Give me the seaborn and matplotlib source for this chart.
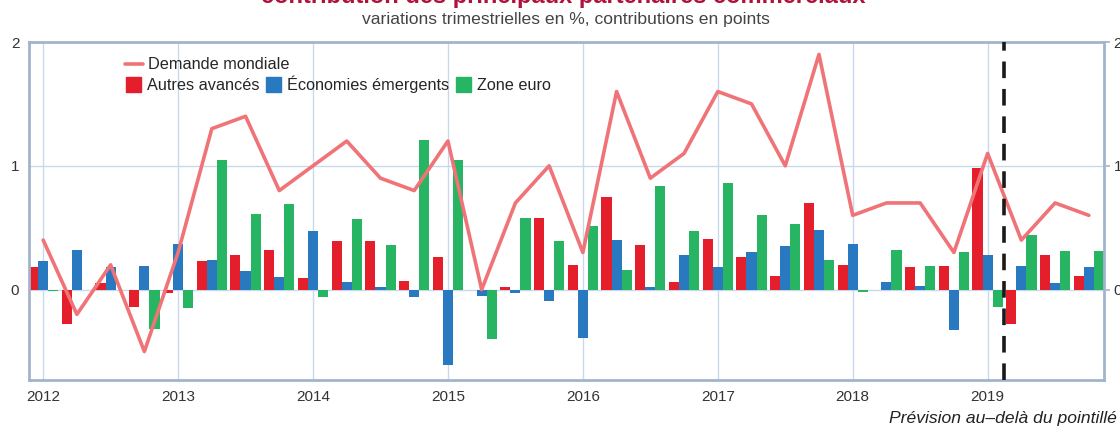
import numpy as np
import pandas as pd
import matplotlib
matplotlib.use('Agg')
import matplotlib.pyplot as plt
import seaborn as sns
from matplotlib.patches import Patch
from matplotlib.lines import Line2D

# quarterly data, 2012T1 -> 2019T4
trimestres = np.arange(32)
annees = ['2012', '2013', '2014', '2015', '2016', '2017', '2018', '2019']

demande = [0.4, -0.2, 0.2, -0.5, 0.3, 1.3, 1.4, 0.8,
           1.0, 1.2, 0.9, 0.8, 1.2, 0.0, 0.7, 1.0,
           0.3, 1.6, 0.9, 1.1, 1.6, 1.5, 1.0, 1.9,
           0.6, 0.7, 0.7, 0.3, 1.1, 0.4, 0.7, 0.6]
autres = [0.18, -0.28, 0.05, -0.14, -0.03, 0.23, 0.28, 0.32,
          0.09, 0.39, 0.39, 0.07, 0.26, 0.0, 0.02, 0.58,
          0.20, 0.75, 0.36, 0.06, 0.41, 0.26, 0.11, 0.70,
          0.20, 0.0, 0.18, 0.19, 0.98, -0.28, 0.28, 0.11]
emergents = [0.23, 0.32, 0.18, 0.19, 0.37, 0.24, 0.15, 0.10,
             0.47, 0.06, 0.02, -0.06, -0.61, -0.05, -0.03, -0.09,
             -0.39, 0.40, 0.02, 0.28, 0.18, 0.30, 0.35, 0.48,
             0.37, 0.06, 0.03, -0.33, 0.28, 0.19, 0.05, 0.18]
zone_euro = [-0.01, 0.0, 0.0, -0.32, -0.15, 1.05, 0.61, 0.69,
             -0.06, 0.57, 0.36, 1.21, 1.05, -0.40, 0.58, 0.39,
             0.51, 0.16, 0.84, 0.47, 0.86, 0.60, 0.53, 0.24,
             -0.02, 0.32, 0.19, 0.30, -0.14, 0.44, 0.31, 0.31]

series = ['Autres avancés', 'Économies émergents', 'Zone euro']
couleurs = {'Autres avancés': '#e41e2b', 'Économies émergents': '#2979c1', 'Zone euro': '#27b463'}

df = pd.DataFrame({
    'trimestre': np.tile(trimestres, 3),
    'valeur': autres + emergents + zone_euro,
    'serie': np.repeat(series, 32),
})

sns.set_style('white')
plt.rcParams['font.family'] = ['Liberation Sans', 'DejaVu Sans']

fig = plt.figure(figsize=(11.2, 4.28), dpi=100)
ax = fig.add_axes([29 / 1120, 1 - 380 / 428, 1075 / 1120, 338 / 428])

sns.barplot(data=df, x='trimestre', y='valeur', hue='serie', hue_order=series,
            palette=couleurs, native_scale=True, width=0.9, errorbar=None,
            saturation=1, legend=False, linewidth=0, ax=ax, zorder=2)
sns.lineplot(x=trimestres, y=demande, color='#f07378', lw=2.6, ax=ax,
             legend=False, zorder=3)
ax.axvline(28.5, color='#1a1a1a', lw=2.6, dashes=(4.6, 3.0), zorder=4)

ax.set_xlim(-0.42, 31.45)
ax.set_ylim(-0.73, 2.0)
ax.set_xticks(np.arange(0, 32, 4))
ax.set_xticklabels(annees)
ax.set_yticks([0, 1, 2])
ax.set_yticklabels(['0', '1', '2'])
ax.set_xlabel('')
ax.set_ylabel('')
ax.grid(True, color='#c8d9ec', lw=1)
ax.set_axisbelow(True)
for s in ax.spines.values():
    s.set_color('#a2b4cc')
    s.set_linewidth(2)
ax.tick_params(axis='both', colors='#a2b4cc', labelcolor='#333333', labelsize=11,
               length=4, width=1.2, direction='out')
ax.tick_params(axis='y', right=True, labelright=True, pad=3)

leg1 = ax.legend(handles=[Line2D([0], [0], color='#f07378', lw=2.6)],
                 labels=['Demande mondiale'], loc='upper left',
                 bbox_to_anchor=(0.089, 0.955), frameon=False, fontsize=11.7,
                 handlelength=1.1, handletextpad=0.35, borderpad=0, borderaxespad=0)
ax.add_artist(leg1)
ax.legend(handles=[Patch(color=couleurs[s]) for s in series], labels=series,
          loc='upper left', bbox_to_anchor=(0.090, 0.900), ncol=3, frameon=False,
          fontsize=11.7, handlelength=0.95, handleheight=1.0, handletextpad=0.35,
          columnspacing=0.4, borderpad=0, borderaxespad=0)

fig.text(0.503, 1 - 3.5 / 428, 'contribution des principaux partenaires commerciaux',
         ha='center', va='baseline', fontsize=17, fontweight='bold', color='#b0103a')
fig.text(0.505, 1 - 24 / 428, 'variations trimestrielles en %, contributions en points',
         ha='center', va='baseline', fontsize=12.6, color='#444444')
fig.text(0.997, 1 - 423 / 428, 'Prévision au–delà du pointillé',
         ha='right', va='baseline', fontsize=12.6, style='italic', color='#222222')

fig.savefig('out.png', dpi=100)
